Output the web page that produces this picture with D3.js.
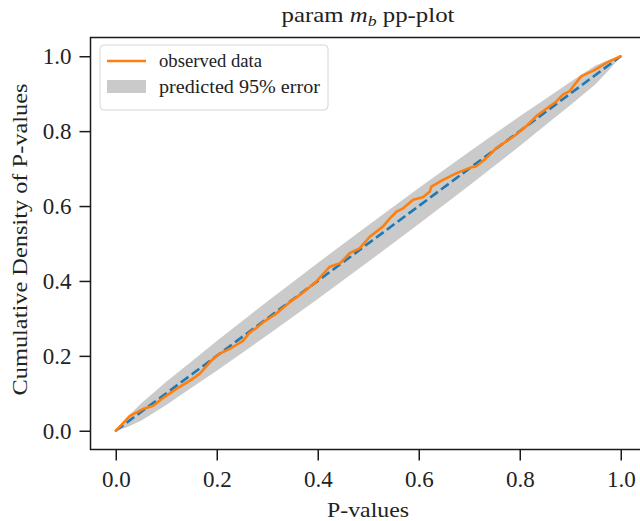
<!DOCTYPE html>
<html>
<head>
<meta charset="utf-8">
<script src="https://cdn.jsdelivr.net/npm/d3@7"></script>
<style>
  body { margin: 0; background: #fff; }
  svg { display: block; font-family: "Liberation Serif", "DejaVu Serif", serif; }
</style>
</head>
<body>
<svg width="640" height="521"></svg>
<script>
// observed p-value CDF
const obsX = [0, 0.028, 0.054, 0.074, 0.094, 0.12, 0.147, 0.166, 0.178, 0.19, 0.206, 0.226, 0.252, 0.265, 0.279, 0.292,
  0.318, 0.345, 0.364, 0.397, 0.424, 0.444, 0.463, 0.483, 0.503, 0.529, 0.543, 0.556, 0.569, 0.589, 0.609, 0.622, 0.625,
  0.648, 0.675, 0.701, 0.714, 0.734, 0.754, 0.774, 0.793, 0.813, 0.833, 0.846, 0.873, 0.886, 0.899, 0.906, 0.922, 0.945,
  0.972, 1.0];
const obsY = [0, 0.040, 0.058, 0.067, 0.088, 0.112, 0.134, 0.152, 0.170, 0.188, 0.206, 0.219, 0.240, 0.262, 0.275, 0.290,
  0.313, 0.344, 0.362, 0.398, 0.438, 0.447, 0.474, 0.487, 0.518, 0.545, 0.567, 0.585, 0.594, 0.617, 0.624, 0.639, 0.652,
  0.670, 0.688, 0.702, 0.706, 0.728, 0.755, 0.773, 0.791, 0.813, 0.840, 0.853, 0.880, 0.898, 0.907, 0.920, 0.947, 0.961,
  0.983, 1.0];

// predicted 95% band
const bandX =     [0, 0.02, 0.05, 0.1, 0.15, 0.2, 0.3, 0.4, 0.5, 0.6, 0.7, 0.8, 0.85, 0.9, 0.95, 0.98, 1];
const bandLower = [0, 0.008, 0.027, 0.069, 0.115, 0.160, 0.255, 0.352, 0.451, 0.552, 0.655, 0.760, 0.815, 0.869, 0.925, 0.968, 1];
const bandUpper = [0, 0.032, 0.073, 0.131, 0.185, 0.240, 0.345, 0.448, 0.549, 0.648, 0.745, 0.840, 0.885, 0.931, 0.975, 0.992, 1];

const xTicks = [0, 0.2, 0.4, 0.6, 0.8, 1.0];
const yTicks = [0, 0.2, 0.4, 0.6, 0.8, 1.0];

const svg = d3.select("svg");
const plotLeft = 90.5, plotRight = 646, plotTop = 37.5, plotBottom = 449.5;

const x = d3.scaleLinear().domain([-0.05, 1.05]).range([plotLeft, plotRight]);
const y = d3.scaleLinear().domain([-0.05, 1.05]).range([plotBottom, plotTop]);

const band = bandX.map((v, i) => ({ x: v, lo: bandLower[i], hi: bandUpper[i] }));
const obs = obsX.map((v, i) => ({ x: v, y: obsY[i] }));

const g = svg.append("g");

g.append("path")
  .datum(band)
  .attr("fill", "#cacaca")
  .attr("d", d3.area().x(d => x(d.x)).y0(d => y(d.lo)).y1(d => y(d.hi)));

g.append("path")
  .datum([{ x: 0, y: 0 }, { x: 1, y: 1 }])
  .attr("fill", "none")
  .attr("stroke", "#1f77b4")
  .attr("stroke-width", 2.6)
  .attr("stroke-dasharray", "9.5,4")
  .attr("d", d3.line().x(d => x(d.x)).y(d => y(d.y)));

g.append("path")
  .datum(obs)
  .attr("fill", "none")
  .attr("stroke", "#ff7f0e")
  .attr("stroke-width", 2.6)
  .attr("stroke-linejoin", "round")
  .attr("stroke-linecap", "round")
  .attr("d", d3.line().x(d => x(d.x)).y(d => y(d.y)));

// frame
svg.append("rect")
  .attr("x", plotLeft).attr("y", plotTop)
  .attr("width", plotRight - plotLeft).attr("height", plotBottom - plotTop)
  .attr("fill", "none").attr("stroke", "#1a1a1a").attr("stroke-width", 1.5);

const xAxis = svg.append("g")
  .attr("transform", "translate(0," + plotBottom + ")")
  .call(d3.axisBottom(x).tickValues(xTicks).tickFormat(d3.format(".1f")).tickSize(11).tickPadding(10));
const yAxis = svg.append("g")
  .attr("transform", "translate(" + plotLeft + ",0)")
  .call(d3.axisLeft(y).tickValues(yTicks).tickFormat(d3.format(".1f")).tickSize(11).tickPadding(8));

[xAxis, yAxis].forEach(a => {
  a.select(".domain").remove();
  a.selectAll("line").attr("stroke", "#1a1a1a").attr("stroke-width", 1.5);
  a.selectAll("text").attr("fill", "#222").style("font-size", "23px")
    .style("font-family", '"Liberation Serif", serif');
});

svg.append("text")
  .attr("x", 368).attr("y", 517)
  .attr("text-anchor", "middle")
  .attr("textLength", 82).attr("lengthAdjust", "spacingAndGlyphs")
  .style("font-size", "22px").attr("fill", "#222")
  .text("P-values");

svg.append("text")
  .attr("transform", "translate(27," + ((plotTop + plotBottom) / 2 - 4) + ") rotate(-90)")
  .attr("text-anchor", "middle")
  .attr("textLength", 312).attr("lengthAdjust", "spacingAndGlyphs")
  .style("font-size", "22px").attr("fill", "#222")
  .text("Cumulative Density of P-values");

const title = svg.append("text")
  .attr("x", 368).attr("y", 22)
  .attr("text-anchor", "middle")
  .attr("textLength", 173).attr("lengthAdjust", "spacingAndGlyphs")
  .style("font-size", "21px").attr("fill", "#222");
title.append("tspan").text("param ");
title.append("tspan").style("font-style", "italic").text("m");
title.append("tspan").style("font-style", "italic").style("font-size", "15px").attr("dy", 4).text("b");
title.append("tspan").attr("dy", -4).text(" pp-plot");

// legend
const lg = svg.append("g").attr("transform", "translate(100,45)");
lg.append("rect")
  .attr("width", 228).attr("height", 65).attr("rx", 4)
  .attr("fill", "#fff").attr("fill-opacity", 0.85)
  .attr("stroke", "#d6d6d6").attr("stroke-width", 1);
lg.append("line")
  .attr("x1", 7).attr("x2", 46).attr("y1", 16).attr("y2", 16)
  .attr("stroke", "#ff7f0e").attr("stroke-width", 2.6);
lg.append("rect")
  .attr("x", 7).attr("y", 35).attr("width", 39).attr("height", 13)
  .attr("fill", "#cacaca");
lg.append("text").attr("x", 59).attr("y", 22).style("font-size", "19px").attr("fill", "#222")
  .attr("textLength", 103).attr("lengthAdjust", "spacingAndGlyphs").text("observed data");
lg.append("text").attr("x", 59).attr("y", 48).style("font-size", "19px").attr("fill", "#222")
  .attr("textLength", 161).attr("lengthAdjust", "spacingAndGlyphs").text("predicted 95% error");
</script>
</body>
</html>
